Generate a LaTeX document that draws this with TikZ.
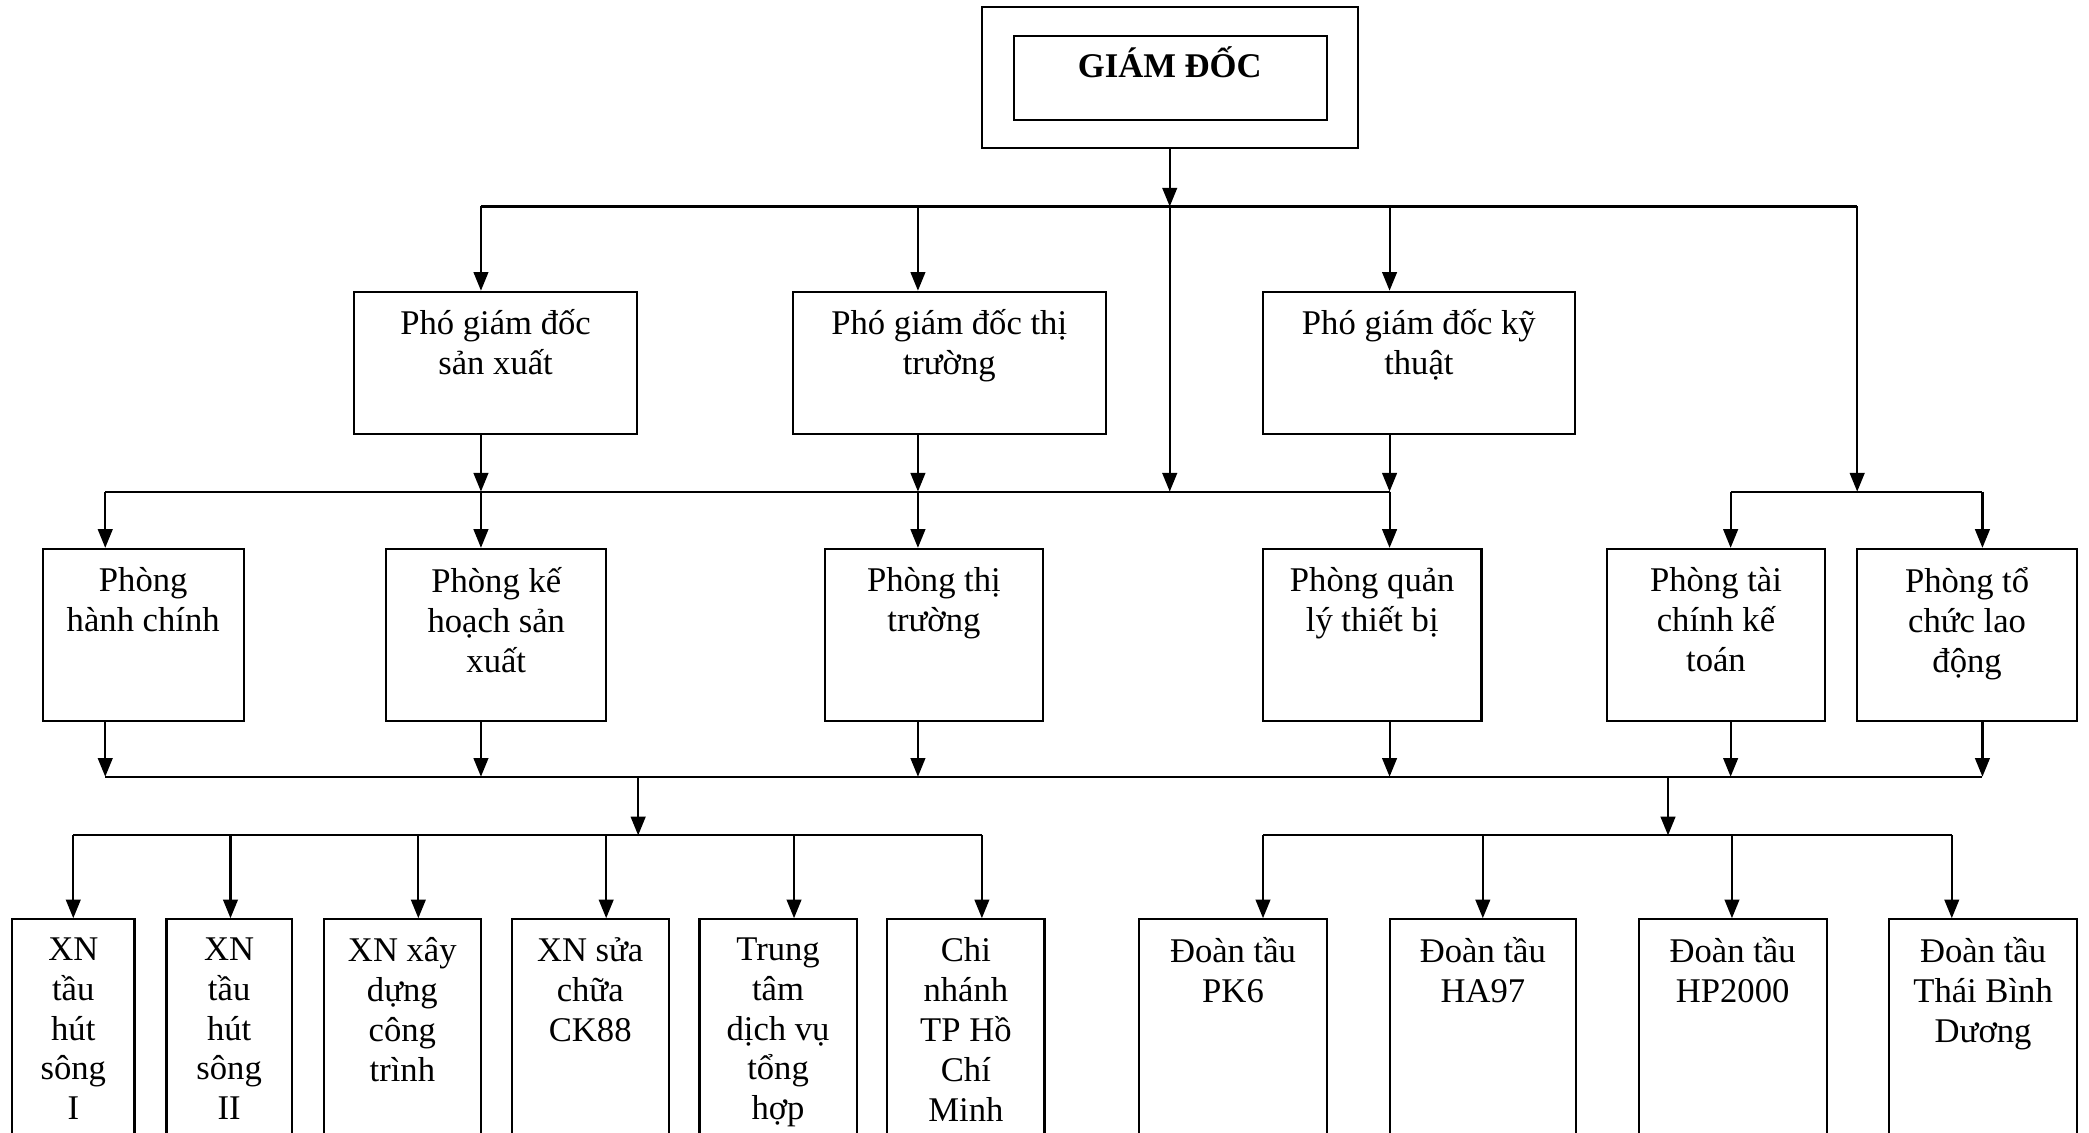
\documentclass[tikz,border=0pt]{standalone}
\usepackage{fontspec}
\setmainfont{Liberation Serif}
\usetikzlibrary{positioning,arrows.meta}

\begin{document}
\begin{tikzpicture}[x=0.5pt,y=-0.5pt]

    \tikzstyle{box}=[draw=black, thick, inner sep=0pt];
    \tikzstyle{txt}=[align=center, inner sep=0pt, font=\fontsize{13}{15}\selectfont, execute at begin node={\rule{0pt}{13pt}}];
    \tikzstyle{arr}=[thick, -{Triangle[length=7pt, width=5.5pt]}];

    \useasboundingbox (0,0) rectangle (1568,850);

    % giam doc
    \node[box, minimum width=141pt, minimum height=53pt] (gd) at (878,58) {};
    \node[box, minimum width=117.5pt, minimum height=31.5pt] (gdin) at (878.5,58.5) {};
    \node[anchor=base, inner sep=0pt, font=\fontsize{13}{15}\selectfont\bfseries] (gdt) at (878,58.5) {GIÁM ĐỐC};

    % pho giam doc
    \node[box, minimum width=106pt, minimum height=53.5pt] (pgsx) at (372,272.5) {};
    \node[box, minimum width=117.5pt, minimum height=53.5pt] (pgtt) at (712.5,272.5) {};
    \node[box, minimum width=117pt, minimum height=53.5pt] (pgkt) at (1065,272.5) {};
    \node[txt, below=7pt of pgsx.north] (pgsx-t) {Phó giám đốc\\ sản xuất};
    \node[txt, below=7pt of pgtt.north] (pgtt-t) {Phó giám đốc thị\\ trường};
    \node[txt, below=7pt of pgkt.north] (pgkt-t) {Phó giám đốc kỹ\\ thuật};

    % phong ban
    \node[box, minimum width=75.5pt, minimum height=64.5pt] (phc) at (107.5,476.5) {};
    \node[box, minimum width=82.5pt, minimum height=64.5pt] (pkh) at (372.5,476.5) {};
    \node[box, minimum width=82pt, minimum height=64.5pt] (ptt) at (701,476.5) {};
    \node[box, minimum width=82pt, minimum height=64.5pt] (pql) at (1030,476.5) {};
    \node[box, minimum width=82pt, minimum height=64.5pt] (ptc) at (1288,476.5) {};
    \node[box, minimum width=82.5pt, minimum height=64.5pt] (pld) at (1476.5,476.5) {};
    \node[txt, below=7pt of phc.north] (phc-t) {Phòng\\ hành chính};
    \node[txt, below=7pt of pkh.north] (pkh-t) {Phòng kế\\ hoạch sản\\ xuất};
    \node[txt, below=7pt of ptt.north] (ptt-t) {Phòng thị\\ trường};
    \node[txt, below=7pt of pql.north] (pql-t) {Phòng quản\\ lý thiết bị};
    \node[txt, below=7pt of ptc.north] (ptc-t) {Phòng tài\\ chính kế\\ toán};
    \node[txt, below=7pt of pld.north] (pld-t) {Phòng tổ\\ chức lao\\ động};

    % xi nghiep
    \node[box, minimum width=46pt, minimum height=95pt] (xn1) at (55,785) {};
    \node[box, minimum width=47pt, minimum height=95pt] (xn2) at (172,785) {};
    \node[box, minimum width=59pt, minimum height=95pt] (xn3) at (302,785) {};
    \node[box, minimum width=59pt, minimum height=95pt] (xn4) at (443,785) {};
    \node[box, minimum width=59pt, minimum height=95pt] (ttdv) at (584,785) {};
    \node[box, minimum width=59pt, minimum height=95pt] (cn) at (725,785) {};
    \node[txt, below=7pt of xn1.north] (xn1-t) {XN\\ tầu\\ hút\\ sông\\ I};
    \node[txt, below=7pt of xn2.north] (xn2-t) {XN\\ tầu\\ hút\\ sông\\ II};
    \node[txt, below=7pt of xn3.north] (xn3-t) {XN xây\\ dựng\\ công\\ trình};
    \node[txt, below=7pt of xn4.north] (xn4-t) {XN sửa\\ chữa\\ CK88};
    \node[txt, below=7pt of ttdv.north] (ttdv-t) {Trung\\ tâm\\ dịch vụ\\ tổng\\ hợp};
    \node[txt, below=7pt of cn.north] (cn-t) {Chi\\ nhánh\\ TP Hồ\\ Chí\\ Minh};

    % doan tau
    \node[box, minimum width=70.5pt, minimum height=95pt] (pk6) at (925.5,785) {};
    \node[box, minimum width=70pt, minimum height=95pt] (ha97) at (1113,785) {};
    \node[box, minimum width=70.5pt, minimum height=95pt] (hp2k) at (1300.5,785) {};
    \node[box, minimum width=70.5pt, minimum height=95pt] (tbd) at (1488.5,785) {};
    \node[txt, below=7pt of pk6.north] (pk6-t) {Đoàn tầu\\ PK6};
    \node[txt, below=7pt of ha97.north] (ha97-t) {Đoàn tầu\\ HA97};
    \node[txt, below=7pt of hp2k.north] (hp2k-t) {Đoàn tầu\\ HP2000};
    \node[txt, below=7pt of tbd.north] (tbd-t) {Đoàn tầu\\ Thái Bình\\ Dương};

    % duong noi
    \coordinate (t0) at (878,155);
    \coordinate (tl) at (361,155);
    \coordinate (t1) at (689,155);
    \coordinate (t2) at (1043,155);
    \coordinate (tr) at (1394,155);
    \coordinate (m0) at (79,369);
    \coordinate (m1) at (1043,369);
    \coordinate (r0) at (1299,369);
    \coordinate (r1) at (1488,369);
    \coordinate (l0) at (79,583);
    \coordinate (l1) at (1488,583);
    \coordinate (s1) at (479,583);
    \coordinate (s2) at (1252,583);
    \coordinate (xa) at (55,627);
    \coordinate (xb) at (737,627);
    \coordinate (da) at (948,627);
    \coordinate (db) at (1465,627);

    \draw[arr] (gd) -- (t0);
    \draw[thick] (tl) -- (tr);
    \draw[arr] (tl) -- (tl |- pgsx.north);
    \draw[arr] (t1) -- (t1 |- pgtt.north);
    \draw[arr] (t2) -- (t2 |- pgkt.north);
    \draw[arr] (t0) -- (t0 |- m0);
    \draw[arr] (tr) -- (tr |- r0);

    \draw[thick] (m0) -- (m1);
    \draw[thick] (r0) -- (r1);
    \draw[arr] (m0) -- (m0 |- phc.north);
    \foreach \n/\p/\c in {pkh/pgsx/tl, ptt/pgtt/t1, pql/pgkt/t2} {
        \draw[arr] (\c |- \p.south) -- (\c |- m0);
        \draw[arr] (\c |- m0) -- (\c |- \n.north);
    }
    \draw[arr] (r0) -- (r0 |- ptc.north);
    \draw[arr] (r1) -- (r1 |- pld.north);

    \foreach \n/\c in {phc/m0, pkh/tl, ptt/t1, pql/t2, ptc/r0, pld/r1}
        \draw[arr] (\c |- \n.south) -- (\c |- l0);
    \draw[thick] (l0) -- (l1);

    \draw[arr] (s1) -- (s1 |- xa);
    \draw[arr] (s2) -- (s2 |- da);
    \draw[thick] (xa) -- (xb);
    \draw[thick] (da) -- (db);

    \foreach \x/\n in {55/xn1, 173/xn2, 314/xn3, 455/xn4, 596/ttdv, 737/cn, 948/pk6, 1113/ha97, 1300/hp2k, 1465/tbd}
        \draw[arr] (xa -| \x,0) -- (\n.north -| \x,0);

\end{tikzpicture}
\end{document}
